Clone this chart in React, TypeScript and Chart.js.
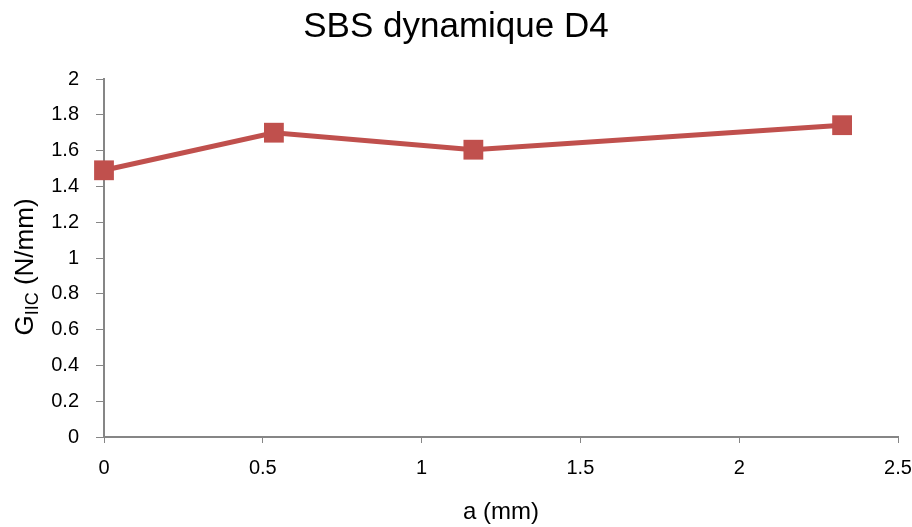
import React, { useEffect, useRef } from "react";
import { Chart, registerables } from "chart.js";

Chart.register(...registerables);

const crackLength = [0, 0.535, 1.163, 2.324];
const giic = [1.49, 1.7, 1.605, 1.742];
const xTicks = [0, 0.5, 1, 1.5, 2, 2.5];
const yTicks = [0, 0.2, 0.4, 0.6, 0.8, 1, 1.2, 1.4, 1.6, 1.8, 2];
const titleText = "SBS dynamique D4";
const xTitle = "a (mm)";
const yTitleMain = "G";
const yTitleSub = "IIC";
const yTitleUnit = " (N/mm)";

const FONT = "'Liberation Sans', Arial, sans-serif";
const RED = "#C0504D";
const AXIS = "#868686";

const yTitlePlugin = {
  id: "yTitlePlugin",
  afterDraw(chart: any) {
    const ctx = chart.ctx;
    const area = chart.chartArea;
    ctx.save();
    ctx.translate(26, (area.top + area.bottom) / 2 + 9);
    ctx.rotate(-Math.PI / 2);
    ctx.fillStyle = "#000";
    ctx.textBaseline = "middle";
    const big = `26px ${FONT}`;
    const small = `18px ${FONT}`;
    ctx.font = big;
    const w1 = ctx.measureText(yTitleMain).width;
    const w3 = ctx.measureText(yTitleUnit).width;
    ctx.font = small;
    const w2 = ctx.measureText(yTitleSub).width;
    let x = -(w1 + w2 + w3) / 2;
    ctx.textAlign = "left";
    ctx.font = big;
    ctx.fillText(yTitleMain, x, 0);
    x += w1;
    ctx.font = small;
    ctx.fillText(yTitleSub, x, 7);
    x += w2;
    ctx.font = big;
    ctx.fillText(yTitleUnit, x, 0);
    ctx.restore();
  },
};

export default function App() {
  const ref = useRef<HTMLCanvasElement>(null);
  useEffect(() => {
    document.body.style.margin = "0";
    const chart = new Chart(ref.current!, {
      type: "line",
      data: {
        datasets: [
          {
            data: crackLength.map((x, i) => ({ x, y: giic[i] })),
            borderColor: RED,
            backgroundColor: RED,
            borderWidth: 5,
            pointStyle: "rect",
            pointRadius: 14,
            pointHoverRadius: 14,
            pointBorderWidth: 0,
            tension: 0,
            clip: false,
          },
        ],
      },
      options: {
        responsive: false,
        animation: false,
        layout: { padding: { left: 0, right: 0, top: 0, bottom: 0 } },
        plugins: {
          legend: { display: false },
          tooltip: { enabled: false },
          title: {
            display: true,
            text: titleText,
            color: "#000",
            font: { family: FONT, size: 35, weight: "normal" },
            padding: { top: 6, bottom: 31 },
          },
        },
        scales: {
          x: {
            type: "linear",
            min: 0,
            max: 2.5,
            afterBuildTicks: (s: any) => {
              s.ticks = xTicks.map((v) => ({ value: v }));
            },
            afterFit: (s: any) => {
              s.height = 90;
              s.paddingRight = 13;
              s.paddingLeft = 0;
            },
            grid: {
              drawOnChartArea: false,
              drawTicks: true,
              tickLength: 6,
              color: AXIS,
            },
            border: { color: AXIS, width: 2 },
            ticks: {
              color: "#000",
              padding: 13,
              font: { family: FONT, size: 20 },
              callback: (v: any) => String(v),
            },
            title: {
              display: true,
              text: xTitle,
              color: "#000",
              font: { family: FONT, size: 24 },
              padding: { top: 4, bottom: 0 },
            },
          },
          y: {
            type: "linear",
            min: 0,
            max: 2,
            afterBuildTicks: (s: any) => {
              s.ticks = yTicks.map((v) => ({ value: v }));
            },
            afterFit: (s: any) => {
              s.width = 104;
            },
            grid: {
              drawOnChartArea: false,
              drawTicks: true,
              tickLength: 8,
              color: AXIS,
            },
            border: { color: AXIS, width: 2 },
            ticks: {
              color: "#000",
              padding: 17,
              font: { family: FONT, size: 20 },
              callback: (v: any) => String(Math.round(v * 10) / 10),
            },
          },
        },
      },
      plugins: [yTitlePlugin],
    });
    return () => chart.destroy();
  }, []);
  return <canvas ref={ref} width={912} height={527} style={{ display: "block" }} />;
}
